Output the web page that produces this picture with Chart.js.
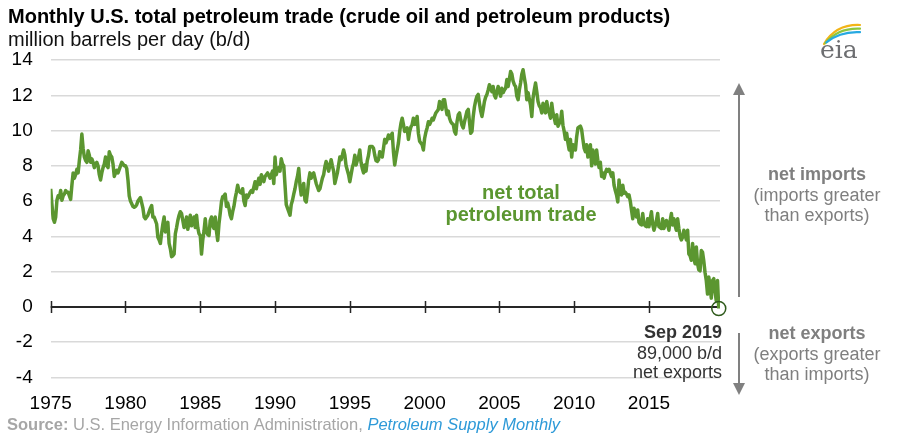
<!DOCTYPE html>
<html><head><meta charset="utf-8">
<script src="https://cdn.jsdelivr.net/npm/chart.js@4.4.0/dist/chart.umd.min.js"></script>
<style>html,body{margin:0;padding:0;background:#fff;overflow:hidden}#wrap{width:914px;height:434px;position:relative}</style>
</head><body><div id="wrap"><canvas id="c" width="914" height="434"></canvas></div>
<script>
// Net total petroleum trade, million b/d, monthly from Jan 1975
const firstYear = 1975;
const y1975 = [6.7, 5.8, 5.0, 4.8, 5.1, 6.05, 6.3, 6.2, 6.6, 6.05, 6.3, 6.4];
const y1976 = [6.6, 6.5, 6.5, 6.3, 6.1, 6.9, 7.6, 7.3, 7.5, 7.8, 7.6, 8.3];
const y1977 = [8.9, 9.8, 9.0, 8.5, 8.3, 8.2, 8.85, 8.6, 8.2, 8.4, 8.2, 7.9];
const y1978 = [8.1, 8.2, 8.0, 7.5, 7.2, 7.6, 7.9, 8.1, 8.5, 8.0, 7.9, 8.8];
const y1979 = [8.6, 8.5, 8.1, 7.4, 7.6, 7.75, 7.6, 7.8, 8.0, 8.2, 8.1, 8.0];
const y1980 = [8.0, 7.85, 7.2, 6.3, 6.0, 5.85, 5.7, 5.65, 5.7, 5.8, 6.0, 6.1];
const y1981 = [6.2, 5.9, 5.6, 5.1, 5.0, 5.1, 5.2, 5.4, 5.6, 5.75, 5.1, 5.1];
const y1982 = [4.9, 4.7, 3.95, 3.8, 3.6, 4.2, 4.7, 5.1, 4.25, 4.6, 4.8, 3.6];
const y1983 = [3.3, 2.85, 2.9, 3.0, 4.15, 4.5, 4.9, 5.2, 5.4, 5.3, 4.9, 4.5];
const y1984 = [4.7, 5.1, 4.4, 4.8, 5.2, 4.6, 4.9, 5.1, 4.5, 5.2, 4.5, 4.15];
const y1985 = [4.05, 3.0, 3.8, 4.3, 5.0, 4.25, 4.1, 4.05, 4.9, 5.1, 4.6, 4.45];
const y1986 = [5.1, 4.3, 3.77, 4.7, 5.3, 5.95, 6.25, 6.3, 6.4, 5.7, 5.9, 5.6];
const y1987 = [5.2, 5.0, 5.4, 5.7, 6.15, 6.5, 6.9, 6.6, 6.5, 6.45, 6.7, 6.0];
const y1988 = [5.75, 6.35, 6.2, 6.35, 6.5, 6.6, 6.5, 6.8, 7.1, 6.7, 7.0, 7.3];
const y1989 = [6.95, 7.5, 7.3, 7.1, 7.4, 7.5, 7.6, 7.45, 7.3, 7.5, 7.7, 7.0];
const y1990 = [8.5, 7.5, 7.8, 7.9, 7.7, 8.4, 8.1, 8.0, 6.9, 5.8, 5.6, 5.4];
const y1991 = [5.2, 5.8, 6.05, 6.4, 6.7, 7.1, 7.4, 7.85, 6.9, 6.35, 6.7, 7.0];
const y1992 = [6.05, 5.95, 6.5, 7.2, 7.6, 7.3, 7.5, 7.6, 7.3, 7.0, 6.8, 6.6];
const y1993 = [6.7, 7.0, 7.3, 7.5, 7.95, 8.25, 8.0, 7.7, 8.05, 8.35, 8.0, 7.7];
const y1994 = [7.0, 7.3, 7.6, 8.05, 8.5, 8.35, 8.6, 8.9, 8.6, 8.0, 7.75, 7.5];
const y1995 = [7.1, 7.5, 7.9, 8.15, 8.6, 8.05, 8.3, 8.5, 8.9, 8.2, 7.85, 7.6];
const y1996 = [8.05, 7.7, 8.3, 8.6, 9.1, 9.1, 9.1, 9.0, 8.6, 8.3, 8.25, 8.35];
const y1997 = [8.8, 8.6, 8.5, 9.0, 9.5, 9.3, 9.5, 9.75, 9.55, 9.7, 9.85, 8.8];
const y1998 = [8.05, 8.5, 8.9, 9.3, 9.95, 10.4, 10.7, 10.35, 9.95, 10.0, 10.15, 9.5];
const y1999 = [9.95, 10.2, 10.35, 10.7, 10.35, 10.5, 10.8, 9.85, 9.4, 9.3, 9.2, 8.9];
const y2000 = [9.55, 9.9, 10.15, 10.5, 10.35, 10.5, 10.7, 10.6, 10.8, 11.0, 11.1, 11.2];
const y2001 = [11.65, 11.4, 11.2, 11.75, 11.75, 11.3, 10.9, 11.1, 10.7, 10.5, 10.4, 10.35];
const y2002 = [9.95, 9.8, 10.5, 10.9, 11.0, 10.6, 10.3, 10.15, 10.5, 10.8, 11.1, 11.2];
const y2003 = [10.5, 9.85, 9.95, 10.8, 11.35, 11.7, 11.95, 12.05, 11.55, 11.1, 10.8, 11.2];
const y2004 = [11.65, 11.9, 12.05, 12.3, 12.6, 12.4, 12.2, 12.5, 12.0, 11.85, 12.2, 12.5];
const y2005 = [12.2, 11.95, 12.4, 12.15, 12.3, 12.4, 12.9, 12.5, 12.9, 13.35, 13.2, 12.8];
const y2006 = [12.6, 12.5, 11.95, 11.75, 12.3, 12.7, 13.2, 13.45, 13.0, 12.6, 11.75, 12.15];
const y2007 = [11.8, 11.45, 10.8, 11.85, 12.3, 12.7, 12.2, 11.65, 11.4, 11.3, 11.0, 11.55];
const y2008 = [11.3, 11.0, 11.65, 11.2, 11.0, 10.7, 11.55, 11.0, 10.7, 10.4, 10.9, 10.25];
const y2009 = [10.4, 10.5, 11.1, 10.3, 9.95, 9.5, 9.85, 9.3, 8.9, 9.5, 8.5, 9.2];
const y2010 = [9.0, 8.9, 9.65, 10.15, 10.2, 10.25, 10.05, 9.5, 9.0, 8.8, 9.2, 8.5];
const y2011 = [8.6, 9.2, 8.0, 8.9, 8.4, 8.1, 8.9, 8.3, 7.9, 8.2, 7.4, 7.6];
const y2012 = [7.3, 7.6, 7.8, 7.7, 7.8, 7.6, 7.4, 7.6, 6.9, 6.6, 6.35, 5.95];
const y2013 = [7.2, 6.5, 6.35, 6.9, 6.45, 6.5, 6.4, 6.25, 6.35, 6.0, 5.5, 5.0];
const y2014 = [5.6, 5.3, 5.1, 5.5, 4.8, 4.7, 4.65, 5.3, 4.7, 4.6, 4.55, 5.0];
const y2015 = [4.55, 5.0, 5.4, 4.7, 4.35, 4.6, 4.9, 5.3, 4.55, 4.5, 4.45, 5.0];
const y2016 = [4.45, 4.7, 4.9, 4.65, 4.35, 4.9, 5.3, 4.65, 5.0, 4.6, 4.35, 5.0];
const y2017 = [4.45, 4.0, 3.8, 3.95, 4.35, 4.1, 3.8, 4.35, 3.0, 2.9, 2.65, 3.6];
const y2018 = [2.8, 2.45, 3.4, 2.45, 2.1, 2.05, 3.2, 3.1, 2.6, 1.95, 1.5, 0.73];
const y2019 = [1.7, 1.2, 0.5, 1.5, 1.6, 0.9, 0.35, 1.5, -0.089];

const yTickValues = [-4, -2, 0, 2, 4, 6, 8, 10, 12, 14];
const xTickYears = [1975, 1980, 1985, 1990, 1995, 2000, 2005, 2010, 2015];

const netTrade = [].concat(y1975,y1976,y1977,y1978,y1979,y1980,y1981,y1982,y1983,y1984,
  y1985,y1986,y1987,y1988,y1989,y1990,y1991,y1992,y1993,y1994,y1995,y1996,y1997,y1998,
  y1999,y2000,y2001,y2002,y2003,y2004,y2005,y2006,y2007,y2008,y2009,y2010,y2011,y2012,
  y2013,y2014,y2015,y2016,y2017,y2018,y2019);
const points = netTrade.map((v, i) => ({x: firstYear + i / 12, y: v}));

const FONT = "'Liberation Sans', Arial, sans-serif";
const GREEN = '#5b9630';

const annot = {
  id: 'annot',
  beforeDatasetsDraw(chart) {
    const {ctx, chartArea: a, scales: {x, y}} = chart;
    const y0 = y.getPixelForValue(0);
    ctx.save();
    ctx.strokeStyle = '#262626';
    ctx.lineWidth = 2;
    ctx.beginPath(); ctx.moveTo(a.left, y0); ctx.lineTo(a.right, y0); ctx.stroke();
    ctx.lineWidth = 1.5;
    ctx.beginPath();
    xTickYears.forEach(t => { const px = Math.round(x.getPixelForValue(t)) + 0.5; ctx.moveTo(px, y0 - 6); ctx.lineTo(px, y0 + 6); });
    ctx.stroke();
    ctx.restore();
  },
  afterDraw(chart) {
    const {ctx, scales: {x, y}} = chart;
    ctx.save();
    // Title
    ctx.textBaseline = 'middle'; ctx.textAlign = 'left';
    ctx.fillStyle = '#000';
    ctx.font = 'bold 20px ' + FONT;
    ctx.fillText('Monthly U.S. total petroleum trade (crude oil and petroleum products)', 8, 17);
    ctx.font = '20px ' + FONT;
    ctx.fillStyle = '#111';
    ctx.fillText('million barrels per day (b/d)', 8, 40);

    // series label
    ctx.textAlign = 'center';
    ctx.fillStyle = GREEN;
    ctx.font = 'bold 20px ' + FONT;
    ctx.fillText('net total', 521, 193);
    ctx.fillText('petroleum trade', 521, 215.5);

    // end circle
    const last = points[points.length - 1];
    const cx = x.getPixelForValue(last.x), cy = y.getPixelForValue(last.y);
    ctx.strokeStyle = '#2f5a1c'; ctx.lineWidth = 1.5;
    ctx.beginPath(); ctx.arc(cx, cy, 7, 0, Math.PI * 2); ctx.stroke();

    // Sep 2019 note
    ctx.textAlign = 'right';
    ctx.fillStyle = '#333';
    ctx.font = 'bold 18px ' + FONT;
    ctx.fillText('Sep 2019', 722, 333.5);
    ctx.font = '18px ' + FONT;
    ctx.fillText('89,000 b/d', 722, 354);
    ctx.fillText('net exports', 722, 373.5);

    // arrows
    const ax = 739;
    ctx.strokeStyle = '#808080'; ctx.fillStyle = '#808080'; ctx.lineWidth = 2;
    ctx.beginPath(); ctx.moveTo(ax, 297); ctx.lineTo(ax, 92); ctx.stroke();
    ctx.beginPath(); ctx.moveTo(ax, 83); ctx.lineTo(ax - 6, 95); ctx.lineTo(ax + 6, 95); ctx.closePath(); ctx.fill();
    ctx.beginPath(); ctx.moveTo(ax, 333); ctx.lineTo(ax, 386); ctx.stroke();
    ctx.beginPath(); ctx.moveTo(ax, 395); ctx.lineTo(ax - 6, 383); ctx.lineTo(ax + 6, 383); ctx.closePath(); ctx.fill();

    // right labels
    ctx.textAlign = 'center';
    ctx.fillStyle = '#7f7f7f';
    ctx.font = 'bold 18px ' + FONT;
    ctx.fillText('net imports', 817, 175);
    ctx.fillText('net exports', 817, 334.5);
    ctx.font = '18px ' + FONT;
    ctx.fillText('(imports greater', 817, 196.5);
    ctx.fillText('than exports)', 817, 216.5);
    ctx.fillText('(exports greater', 817, 355.5);
    ctx.fillText('than imports)', 817, 375.5);

    // source
    ctx.textAlign = 'left';
    let sx = 7; const sy = 425;
    ctx.font = 'bold 16.5px ' + FONT; ctx.fillStyle = '#a6a6a6';
    ctx.fillText('Source:', sx, sy); sx += ctx.measureText('Source:').width;
    ctx.font = '16.5px ' + FONT;
    const mid = ' U.S. Energy Information Administration, ';
    ctx.fillText(mid, sx, sy); sx += ctx.measureText(mid).width;
    ctx.font = 'italic 16.5px ' + FONT; ctx.fillStyle = '#2e9ad8';
    ctx.fillText('Petroleum Supply Monthly', sx, sy);

    // eia logo
    ctx.lineWidth = 2.2; ctx.lineCap = 'round';
    const arcs = [['#f2b418', 0], ['#8cc63f', 4], ['#27a9e1', 8]];
    arcs.forEach(([c, o]) => {
      ctx.strokeStyle = c;
      ctx.beginPath();
      ctx.moveTo(824 + o * 0.3, 44 - o * 0.2);
      ctx.quadraticCurveTo(836 + o * 0.5, 24 + o * 0.9, 860, 25 + o * 0.9);
      ctx.stroke();
    });
    ctx.fillStyle = '#6d6e71';
    ctx.font = '25px "DejaVu Serif", serif';
    ctx.textAlign = 'left'; ctx.textBaseline = 'alphabetic';
    ctx.fillText('eia', 820, 58);
    ctx.restore();
  }
};

new Chart(document.getElementById('c').getContext('2d'), {
  type: 'line',
  data: { datasets: [{ data: points, borderColor: GREEN, borderWidth: 3.5, pointRadius: 0, fill: false, tension: 0, borderJoinStyle: 'round' }] },
  options: {
    responsive: false, animation: false, devicePixelRatio: 1,
    layout: { padding: { top: 60, right: 194, left: 0, bottom: 0 } },
    plugins: { legend: { display: false }, tooltip: { enabled: false } },
    scales: {
      x: {
        type: 'linear', min: 1975, max: 2019.75,
        grid: { display: false }, border: { display: false },
        afterBuildTicks: s => { s.ticks = xTickYears.map(v => ({ value: v })); },
        afterFit: s => { s.height = 56.5; },
        ticks: { font: { family: FONT, size: 19 }, color: '#000', padding: 7, maxRotation: 0, autoSkip: false, callback: v => String(v) }
      },
      y: {
        min: -4, max: 14,
        afterBuildTicks: s => { s.ticks = yTickValues.map(v => ({ value: v })); },
        afterFit: s => { s.width = 50.7; },
        grid: { color: c => (c.tick && c.tick.value === 0) ? 'rgba(0,0,0,0)' : '#d9d9d9', lineWidth: 1.5, drawTicks: false },
        border: { display: false },
        ticks: { font: { family: FONT, size: 19 }, color: '#000', padding: 18 }
      }
    }
  },
  plugins: [annot]
});
</script>
</body></html>
